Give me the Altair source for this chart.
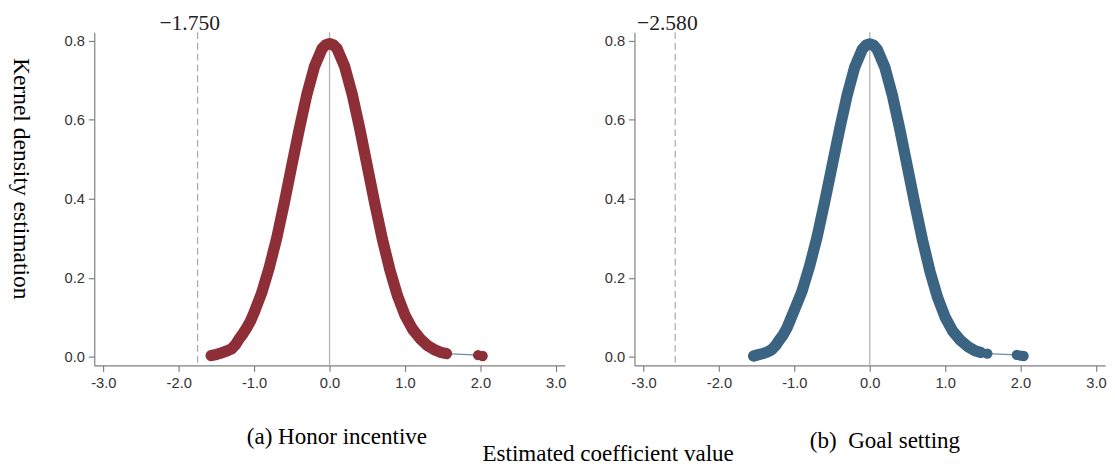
import altair as alt
import pandas as pd

# ---------------- data ----------------
X_TICKS = [-3.0, -2.0, -1.0, 0.0, 1.0, 2.0, 3.0]
Y_TICKS = [0.0, 0.2, 0.4, 0.6, 0.8]

# (a) Honor incentive
left_x = [-1.57, -1.50, -1.43, -1.36, -1.30, -1.25, -1.20, -1.15, -1.10, -1.05,
          -1.00, -0.90, -0.80, -0.70, -0.60, -0.50, -0.40, -0.30, -0.20, -0.10,
          -0.05, 0.00, 0.05, 0.10, 0.20, 0.30, 0.40, 0.50, 0.60, 0.70,
          0.80, 0.90, 1.00, 1.10, 1.20, 1.30, 1.40, 1.48, 1.55, 1.97, 2.03]
left_y = [0.003, 0.006, 0.010, 0.015, 0.020, 0.030, 0.045, 0.058, 0.073, 0.090,
          0.112, 0.162, 0.226, 0.301, 0.390, 0.485, 0.578, 0.665, 0.735, 0.780,
          0.790, 0.793, 0.790, 0.780, 0.735, 0.665, 0.578, 0.483, 0.388, 0.298,
          0.220, 0.155, 0.105, 0.070, 0.046, 0.028, 0.017, 0.011, 0.008, 0.004, 0.002]
left_band = ["main"] * 39 + ["dot"] * 2
left_cut = -1.750
left_cut_label = "\u22121.750"
left_title = "(a) Honor incentive"

# (b) Goal setting
right_x = [-1.54, -1.48, -1.42, -1.36, -1.30, -1.25, -1.20, -1.15, -1.10, -1.05,
           -1.00, -0.90, -0.80, -0.70, -0.60, -0.50, -0.40, -0.30, -0.20, -0.10,
           -0.05, 0.00, 0.05, 0.10, 0.20, 0.30, 0.40, 0.50, 0.60, 0.70,
           0.80, 0.90, 1.00, 1.10, 1.20, 1.30, 1.40, 1.47, 1.56, 1.95, 2.00, 2.04]
right_y = [0.002, 0.005, 0.008, 0.012, 0.018, 0.028, 0.042, 0.055, 0.072, 0.095,
           0.118, 0.165, 0.228, 0.302, 0.390, 0.483, 0.576, 0.662, 0.733, 0.778,
           0.789, 0.792, 0.789, 0.778, 0.733, 0.662, 0.575, 0.480, 0.385, 0.295,
           0.215, 0.150, 0.100, 0.065, 0.042, 0.026, 0.015, 0.011, 0.008, 0.005, 0.003, 0.002]
right_band = ["main"] * 38 + ["dot"] * 4
right_cut = -2.580
right_cut_label = "\u22122.580"
right_title = "(b)\u00a0 Goal setting"

Y_TITLE = "Kernel density estimation"
X_TITLE = "Estimated coefficient value"

RED = "#8e2f38"
BLUE = "#3b6483"
THIN = "#6f8ea4"
SERIF = "Liberation Serif"
SANS = "Liberation Sans"

W, H = 480, 340
X_DOMAIN = [-3.12, 3.12]
Y_DOMAIN = [-0.022, 0.822]


def panel(xs, ys, band, color, cut, cut_label, subtitle, show_ytitle, sub_pad, sub_dx):
    df = pd.DataFrame({"x": xs, "y": ys, "band": band})
    xscale = alt.Scale(domain=X_DOMAIN, nice=False, zero=False)
    yscale = alt.Scale(domain=Y_DOMAIN, nice=False, zero=False)
    xaxis = alt.Axis(
        values=X_TICKS,
        labelExpr="(datum.value < 0 ? '-' : '') + format(abs(datum.value), '.1f')",
        title=subtitle,
        titleFont=SERIF, titleFontSize=23.5, titleFontWeight="normal", titleColor="#000000",
        titlePadding=sub_pad, titleX=W / 2 + sub_dx,
    )
    yargs = dict(values=Y_TICKS, format=".1f")
    if show_ytitle:
        yaxis = alt.Axis(
            title=Y_TITLE, titleAngle=90, titleFont=SERIF, titleFontSize=24,
            titleFontWeight="normal", titleColor="#000000", titleBaseline="top",
            titleAlign="center", titleY=149, titlePadding=33, **yargs,
        )
    else:
        yaxis = alt.Axis(title=None, **yargs)

    base = alt.Chart(df)
    thin = base.mark_line(color=THIN, strokeWidth=1.2).encode(
        x=alt.X("x:Q", scale=xscale, axis=xaxis),
        y=alt.Y("y:Q", scale=yscale, axis=yaxis),
    )
    thick = base.transform_filter(alt.datum.band == "main").mark_line(
        color=color, strokeWidth=11.5, strokeCap="round", strokeJoin="round"
    ).encode(x="x:Q", y="y:Q")
    dots = base.mark_circle(color=color, size=110, opacity=1).encode(x="x:Q", y="y:Q")

    zero_df = pd.DataFrame({"v": [0.0]})
    cut_df = pd.DataFrame({"v": [cut], "label": [cut_label]})
    rule0 = alt.Chart(zero_df).mark_rule(color="#b5b5b5", strokeWidth=1.3).encode(x="v:Q")
    rulec = alt.Chart(cut_df).mark_rule(
        color="#a8a8a8", strokeWidth=1.2, strokeDash=[7, 4]
    ).encode(x="v:Q")
    label = alt.Chart(cut_df).mark_text(
        font=SERIF, fontSize=22, baseline="middle", align="center", dx=-8, color="#222222"
    ).encode(x="v:Q", y=alt.value(-9), text="label:N")

    return alt.layer(rule0, rulec, thin, thick, dots, label).properties(width=W, height=H)


left = panel(left_x, left_y, left_band, RED, left_cut, left_cut_label, left_title, True, 36, 7)
right = panel(right_x, right_y, right_band, BLUE, right_cut, right_cut_label, right_title, False, 40, 15)

chart = alt.hconcat(left, right, spacing=71, bounds="flush").properties(
    padding={"top": 0, "left": 0, "right": 0, "bottom": 0},
    title=alt.TitleParams(
        text=X_TITLE, orient="bottom", anchor="middle", font=SERIF, fontSize=23.5,
        fontWeight="normal", color="#000000", offset=-10, dx=52,
    ),
).configure_view(stroke=None).configure_axis(
    grid=False,
    domainColor="#7f7f7f", domainWidth=1.2,
    tickColor="#7f7f7f", tickSize=6, tickWidth=1.2,
    labelFont=SANS, labelFontSize=15, labelColor="#333333", labelPadding=4,
)

chart.save("out.html", embed_options={"renderer": "svg", "actions": False})
